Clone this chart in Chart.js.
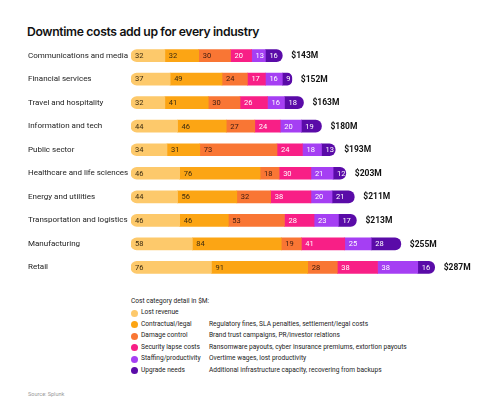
<!DOCTYPE html>
<html>
<head>
<meta charset="utf-8">
<script src="https://cdn.jsdelivr.net/npm/chart.js@4.4.0/dist/chart.umd.min.js"></script>
<style>
  body { margin: 0; background: #fff; font-family: Roboto, "Noto Sans", sans-serif; }
  #wrap { position: relative; width: 500px; height: 404px; overflow: hidden; }
  #title { position: absolute; left: 27px; top: 24px; font-family: Inter, sans-serif; font-size: 12.2px; font-weight: 600; color: #111; letter-spacing: -0.35px; }
  #chartBox { position: absolute; left: 28px; top: 39px; width: 449px; height: 245px; }
  #legend { position: absolute; left: 131px; top: 295px; font-size: 6.6px; color: #222; }
  #legend .head { height: 12px; line-height: 12px; }
  #legend .row { height: 11.6px; line-height: 11.6px; position: relative; }
  #legend .dot { position: absolute; left: 0; top: 2.5px; width: 7px; height: 7px; border-radius: 50%; }
  #legend .name { position: absolute; left: 10px; white-space: nowrap; }
  #legend .desc { position: absolute; left: 78px; white-space: nowrap; }
  #source { position: absolute; left: 28px; top: 391px; font-size: 5.5px; color: #999; }
</style>
</head>
<body>
<div id="wrap">
  <div id="title">Downtime costs add up for every industry</div>
  <div id="chartBox"><canvas id="chartDowntime"></canvas></div>
  <div id="legend"></div>
  <div id="source">Source: Splunk</div>
</div>
<script>
// Data (in $M)
const industries = ['Communications and media', 'Financial services', 'Travel and hospitality',
    'Information and tech', 'Public sector', 'Healthcare and life sciences', 'Energy and utilities',
    'Transportation and logistics', 'Manufacturing', 'Retail'];
const lostRevenue   = [32, 37, 32, 44, 34, 46, 44, 46, 58, 76];
const contractual   = [32, 49, 41, 46, 31, 76, 56, 46, 84, 91];
const damageControl = [30, 24, 30, 27, 73, 18, 32, 53, 19, 28];
const securityLapse = [20, 17, 26, 24, 24, 30, 38, 28, 41, 38];
const staffing      = [13, 16, 16, 20, 18, 21, 20, 23, 25, 38];
const upgradeNeeds  = [16, 9, 18, 19, 13, 12, 21, 17, 28, 16];

const categoryNames = ['Lost revenue', 'Contractual/legal', 'Damage control',
    'Security lapse costs', 'Staffing/productivity', 'Upgrade needs'];
const categoryNotes = ['', 'Regulatory fines, SLA penalties, settlement/legal costs',
    'Brand trust campaigns, PR/investor relations',
    'Ransomware payouts, cyber insurance premiums, extortion payouts',
    'Overtime wages, lost productivity',
    'Additional infrastructure capacity, recovering from backups'];

const colors = ['#FDC96B', '#FCA514', '#F97634', '#F81F86', '#A53FF3', '#5A0BA8'];
const labelColors = ['#3a2a10', '#3a2a10', '#3a1a10', '#ffffff', '#ffffff', '#ffffff'];

const series = [lostRevenue, contractual, damageControl, securityLapse, staffing, upgradeNeeds];
const totals = industries.map((_, i) => series.reduce((s, arr) => s + arr[i], 0));

// Segment values and totals
const labelPlugin = {
    id: 'segmentLabels',
    afterDatasetsDraw(chart) {
        const ctx = chart.ctx;
        ctx.save();
        ctx.textBaseline = 'middle';
        ctx.textAlign = 'left';
        ctx.font = '7.5px Roboto';
        chart.data.datasets.forEach((ds, di) => {
            chart.getDatasetMeta(di).data.forEach((bar, i) => {
                ctx.fillStyle = labelColors[di];
                ctx.fillText(ds.data[i], bar.base + 4, bar.y + 0.5);
            });
        });
        ctx.font = 'bold 8.5px Roboto';
        ctx.fillStyle = '#111';
        chart.getDatasetMeta(chart.data.datasets.length - 1).data.forEach((bar, i) => {
            ctx.fillText('$' + totals[i] + 'M', bar.x + 9, bar.y + 0.5);
        });
        ctx.restore();
    }
};

function initChart() {
    const ctx = document.getElementById('chartDowntime');
    const last = series.length - 1;
    new Chart(ctx, {
        type: 'bar',
        data: {
            labels: industries,
            datasets: series.map((arr, i) => ({
                label: categoryNames[i],
                data: arr,
                backgroundColor: colors[i],
                borderSkipped: false,
                borderRadius: i === 0 ? { topLeft: 6, bottomLeft: 6, topRight: 0, bottomRight: 0 }
                    : i === last ? { topLeft: 0, bottomLeft: 0, topRight: 6, bottomRight: 6 } : 0,
                barThickness: 12
            }))
        },
        options: {
            indexAxis: 'y',
            responsive: true,
            maintainAspectRatio: false,
            animation: false,
            layout: { padding: 0 },
            plugins: {
                legend: { display: false },
                tooltip: { enabled: false }
            },
            scales: {
                x: { stacked: true, min: 0, max: 327, display: false },
                y: {
                    stacked: true,
                    grid: { display: false },
                    border: { display: false },
                    afterFit: function(scale) { scale.width = 103; },
                    ticks: {
                        crossAlign: 'far',
                        color: '#222',
                        padding: 0,
                        font: { family: 'Roboto', size: 8 }
                    }
                }
            }
        },
        plugins: [labelPlugin]
    });
}

function buildLegend() {
    const box = document.getElementById('legend');
    let html = '<div class="head">Cost category detail in $M:</div>';
    categoryNames.forEach((name, i) => {
        html += '<div class="row"><span class="dot" style="background:' + colors[i] + '"></span>' +
            '<span class="name">' + name + '</span><span class="desc">' + categoryNotes[i] + '</span></div>';
    });
    box.innerHTML = html;
}

document.addEventListener('DOMContentLoaded', function() {
    initChart();
    buildLegend();
});
</script>
</body>
</html>
